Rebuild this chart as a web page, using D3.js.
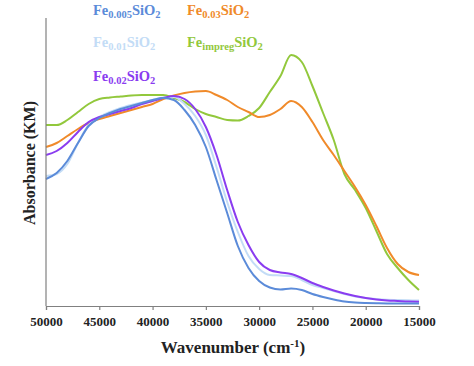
<!DOCTYPE html>
<html>
<head>
<meta charset="utf-8">
<script src="https://cdn.jsdelivr.net/npm/d3@7"></script>
<style>
  html, body { margin: 0; padding: 0; background: #fff; }
  svg { display: block; }
  text { font-family: "Liberation Serif", "Times New Roman", serif; font-weight: bold; }
</style>
</head>
<body>
<svg id="chart" width="474" height="366"></svg>
<script>
// Wavenumber grid (cm^-1)
const wavenumbers = [50000,49000,48000,47000,46000,45000,44000,43000,42000,41000,40000,39000,38000,37000,36000,35000,34000,33000,32000,31000,30000,29000,28000,27000,26000,25000,24000,23000,22000,21000,20000,19000,18000,17000,16000,15000];

// Absorbance (KM, arbitrary units)
const fe0005 = [127,133,145,163,180,188,193,197,200,203,206,208,206,196,181,159,126,93,60,38,25,18.5,16.5,17.5,16,12,9,6.5,4.5,3.5,3,2.7,2.5,2.5,2.5,2.5];
const fe001  = [130,132,142,163,181,189,194,198,201,203.5,206,208.5,209,202,190,171,139,104,74,50,37,31,30.5,30,26,21,18,15,12,9.5,8,7,6.3,6,5.7,5.5];
const fe002  = [151,155,163,174,184,189,192,195,198,202,205,208,210,207,197,179,151,116,84,61,44,36,33.5,32,28,23,19,15.5,12.5,10,8,6.5,5.5,5,4.5,4.3];
const fe003  = [159,163,170,177,183,187,190,193,196,199,202,207,210.5,213,214.5,215,211,206,199,194,189,191,197,205,199,184,166,151,135,119,101,80,58,42,34,31];
const feImpreg = [181,181,186,194,202,207,208.5,209.5,210.5,211,211,211,208,204,197,192,189,186,185.5,190,198,214,230,251,244,220,193,166,132,116,98,75,52,38,26,16];

const xTicks = [50000,45000,40000,35000,30000,25000,20000,15000];

const series = [
  { base: "Fe", sub: "0.005", values: fe0005, color: "#5b8bd9", lx: 93, ly: 15 },
  { base: "Fe", sub: "0.01",  values: fe001,  color: "#c3dcf6", lx: 93, ly: 47 },
  { base: "Fe", sub: "0.02",  values: fe002,  color: "#8a3cf0", lx: 93, ly: 81 },
  { base: "Fe", sub: "0.03",  values: fe003,  color: "#f08a2a", lx: 187, ly: 15 },
  { base: "Fe", sub: "impreg", values: feImpreg, color: "#92c83c", lx: 187, ly: 47 }
];

const svg = d3.select("#chart");
const x = d3.scaleLinear().domain([50000, 15000]).range([46, 419]);
const y = d3.scaleLinear().domain([0, 288]).range([306, 18]);

const line = d3.line().x((d, i) => x(wavenumbers[i])).y(d => y(d)).curve(d3.curveMonotoneX);
const order = [4, 3, 1, 2, 0];
order.forEach(k => {
  const s = series[k];
  svg.append("path")
    .attr("d", line(s.values))
    .attr("fill", "none")
    .attr("stroke", s.color)
    .attr("stroke-width", 2);
});

// Y axis (no ticks)
svg.append("line").attr("x1", 46).attr("x2", 46).attr("y1", y(288)).attr("y2", y(0))
  .attr("stroke", "#808080").attr("stroke-width", 1.2);

// X axis
const xAxis = d3.axisBottom(x).tickValues(xTicks).tickSize(4).tickFormat(d3.format("d"));
const gx = svg.append("g").attr("transform", "translate(0,306)").call(xAxis);
gx.select(".domain").attr("stroke", "#808080").attr("stroke-width", 1.2);
gx.selectAll(".tick line").attr("stroke", "#808080").attr("stroke-width", 1.2);
gx.selectAll(".tick text")
  .attr("fill", "#222")
  .attr("font-size", 13)
  .attr("font-family", "Liberation Serif, serif")
  .attr("font-weight", "bold")
  .attr("y", 11);

// Axis titles
const xt = svg.append("text").attr("x", 233).attr("y", 353).attr("text-anchor", "middle")
  .attr("font-size", 17).attr("fill", "#222");
xt.append("tspan").text("Wavenumber (cm");
xt.append("tspan").attr("font-size", 11).attr("dy", -6).text("-1");
xt.append("tspan").attr("dy", 6).text(")");

svg.append("text").attr("transform", "translate(35,163) rotate(-90)")
  .attr("text-anchor", "middle").attr("font-size", 16).attr("fill", "#222")
  .text("Absorbance (KM)");

// Legend labels
series.forEach(s => {
  const t = svg.append("text").attr("x", s.lx).attr("y", s.ly).attr("font-size", 14.5).attr("fill", s.color);
  t.append("tspan").text(s.base);
  t.append("tspan").attr("font-size", 10.5).attr("dy", 3).text(s.sub);
  t.append("tspan").attr("dy", -3).text("SiO");
  t.append("tspan").attr("font-size", 10.5).attr("dy", 3).text("2");
});
</script>
</body>
</html>
